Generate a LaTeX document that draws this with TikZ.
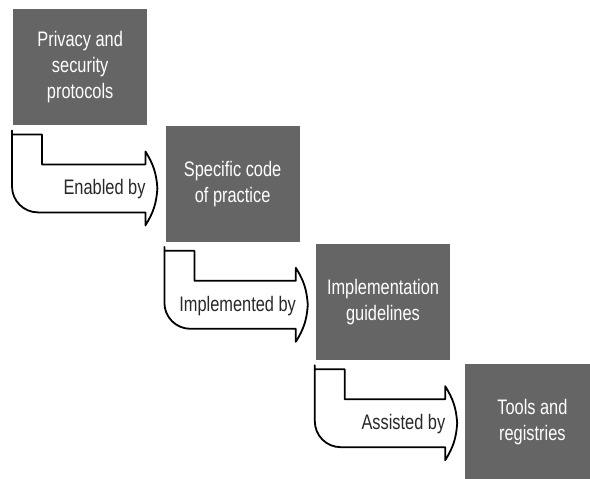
\documentclass[tikz,border=0pt]{standalone}
\usepackage{fontspec}
\setmainfont{Liberation Sans}[FakeStretch=0.78]
\usetikzlibrary{positioning,calc}
\definecolor{boxgray}{RGB}{101,101,101}
\definecolor{linkgray}{RGB}{40,40,40}
\tikzset{
  block/.style={rectangle, fill=boxgray, text=white, minimum width=134pt, minimum height=116pt, inner sep=0pt, align=center, font=\fontsize{21}{26}\selectfont},
  bentshape/.style={draw=black, line width=1.8pt, fill=white, line join=round},
  linklabel/.style={text=linkgray, inner sep=0pt, font=\fontsize{21}{24}\selectfont}
}
% bent arrow from the upper box down and round to the lower box
\newcommand{\bentarrow}[3]{%
  \path [bentshape] let \p1=(#1.south west), \p2=(#2.west) in
    (\x1-1pt,\y1-9pt) -- ++(30,0) -- ++(0,30) -- (\x2-20pt,\y1-39pt) -- ++(0,-13)
    to[bend left=14] (\x2-8pt,\y1-63pt)
    to[bend left=14] (\x2-20pt,\y1-100pt) -- ++(0,-13)
    [rounded corners=26pt] -- (\x1-1pt,\y1-87pt) [rounded corners=4pt] -- (\x1-1pt,\y1-9pt) [sharp corners] -- cycle
    (\x2-19pt,\y1-64pt) node [linklabel, anchor=east] {#3};
}

\begin{document}
\begin{tikzpicture}[x=1pt, y=-1pt]
    \useasboundingbox (0,0) rectangle (590,479);
    % Place nodes
    \node [block, anchor=north west] (privacy) at (13,9) {Privacy and\\security\\protocols};
    \node [block, below right=0pt and 18pt of privacy] (code) {Specific code\\of practice};
    \node [block, below right=2pt and 16pt of code] (guide) {Implementation\\guidelines};
    \node [block, below right=4pt and 15pt of guide] (tools) {Tools and\\registries};
    % Draw edges
    \bentarrow{privacy}{code}{Enabled by}
    \bentarrow{code}{guide}{Implemented by}
    \bentarrow{guide}{tools}{Assisted by}
\end{tikzpicture}
\end{document}
